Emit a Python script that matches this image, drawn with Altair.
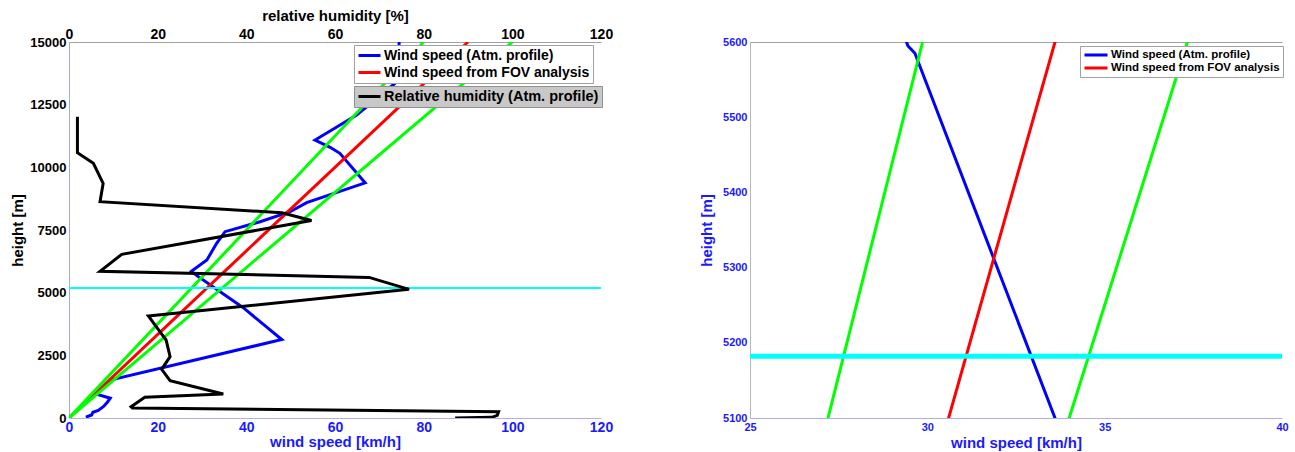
import altair as alt
import pandas as pd

FONT = "Liberation Sans"
BLUE = "#0000ff"
RED = "#ff0000"
GREEN = "#00ff00"
CYAN = "#00ffff"
LABEL_BLUE = "#1a1aff"

# ---- data ----
# Wind speed from the atmospheric profile (height [m], speed [km/h])
wind_height = [15000, 13350, 12090, 11090, 10800, 10560, 9380, 8590, 8230, 7830,
               7433, 6968, 6303, 5850, 5595, 5585, 4400, 3130, 1543, 960, 790,
               640, 460, 300, 230, 120, 30]
wind_speed = [74.5, 73.5, 64.9, 55.5, 58.9, 61.1, 66.8, 53.6, 49.9, 43.1,
              35.2, 33.3, 31.1, 27.6, 29.45, 29.65, 39.3, 48.0, 10.0, 6.0, 9.3,
              8.7, 7.8, 6.6, 5.4, 5.1, 3.8]

# Wind speed from FOV analysis (straight line through the origin)
fov_height = [0, 15000]
fov_speed = [0, 90]

# Uncertainty bounds (green)
lower_height = [0, 15000]
lower_speed = [0, 80]
upper_height = [0, 15000]
upper_speed = [0, 100]

# Relative humidity from the atmospheric profile (height [m], RH [%])
hum_height = [12020, 10580, 10160, 9360, 8630, 8190, 7880, 6530, 5850, 5610,
              5133, 4069, 3443, 3111, 2446, 1942, 1489, 957, 825, 451, 400,
              250, 108, 27, 0]
hum_value = [1.9, 1.9, 5.5, 7.7, 7.0, 48.0, 54.7, 11.9, 7.0, 67.7,
             76.7, 17.9, 20.5, 21.9, 22.8, 20.9, 22.8, 34.8, 17.1, 14.0, 14.3,
             96.9, 96.6, 95.4, 87.1]

# Height of the cyan marker line
marker_height = [5182]

SERIES = ["Wind speed (Atm. profile)", "Wind speed from FOV analysis"]
HUM_SERIES = ["Relative humidity (Atm. profile)"]

left_x_ticks = [0, 20, 40, 60, 80, 100, 120]
left_y_ticks = [0, 2500, 5000, 7500, 10000, 12500, 15000]
right_x_ticks = [25, 30, 35, 40]
right_y_ticks = [5100, 5200, 5300, 5400, 5500, 5600]

# ---- tables ----
wind_df = pd.DataFrame({"h": wind_height, "v": wind_speed, "series": SERIES[0],
                        "i": range(len(wind_height))})
fov_df = pd.DataFrame({"h": fov_height, "v": fov_speed, "series": SERIES[1],
                       "i": range(len(fov_height))})
lines_df = pd.concat([wind_df, fov_df], ignore_index=True)
bounds_df = pd.concat([
    pd.DataFrame({"h": lower_height, "v": lower_speed, "bound": "lower", "i": range(2)}),
    pd.DataFrame({"h": upper_height, "v": upper_speed, "bound": "upper", "i": range(2)}),
], ignore_index=True)
hum_df = pd.DataFrame({"h": hum_height, "rh": hum_value, "series": HUM_SERIES[0],
                       "i": range(len(hum_height))})
marker_df = pd.DataFrame({"h": marker_height})

W, H = 532, 376

# ---------------- left panel ----------------
y_left_axis = alt.Axis(values=left_y_ticks, format="d", title="height [m]",
                       labelFont=FONT, labelFontSize=13, labelFontWeight="bold",
                       labelColor="#000000", titleFont=FONT, titleFontSize=15,
                       titleFontWeight="bold", titleColor="#000000",
                       domainColor="#a8a8c8", ticks=False, grid=False,
                       labelPadding=3, titlePadding=4, labelFlush=False)
y_left = alt.Y("h:Q", scale=alt.Scale(domain=[0, 15000], nice=False, zero=False),
               axis=y_left_axis)
x_scale_left = alt.Scale(domain=[0, 120], nice=False)
x_bottom_axis = alt.Axis(values=left_x_ticks, format="d", title="wind speed [km/h]",
                         orient="bottom", labelFont=FONT, labelFontSize=14,
                         labelFontWeight="bold", labelColor=LABEL_BLUE,
                         titleFont=FONT, titleFontSize=15, titleFontWeight="bold",
                         titleColor=LABEL_BLUE, domainColor="#b0b0e8", ticks=False,
                         grid=False, labelPadding=2, titlePadding=0, labelFlush=False)

wind_left = alt.Chart(lines_df).mark_line(strokeWidth=3, clip=True).encode(
    x=alt.X("v:Q", scale=x_scale_left, axis=x_bottom_axis),
    y=y_left,
    order="i:Q",
    color=alt.Color("series:N", scale=alt.Scale(domain=SERIES, range=[BLUE, RED]),
                    legend=alt.Legend(title=None, orient="none", legendX=285, legendY=3,
                                      fillColor="#ffffff", strokeColor="#a0a0a0",
                                      padding=3, rowPadding=2, columnPadding=0,
                                      columns=1, labelFont=FONT,
                                      labelFontSize=14, labelFontWeight="bold",
                                      labelColor="#000000", labelLimit=400,
                                      symbolType="stroke", symbolSize=484,
                                      symbolStrokeWidth=3, clipHeight=15,
                                      labelOffset=2)),
)
green_left = alt.Chart(bounds_df).mark_line(strokeWidth=3, clip=True, color=GREEN).encode(
    x=alt.X("v:Q", scale=x_scale_left, axis=None),
    y=y_left,
    detail="bound:N",
    order="i:Q",
)
cyan_left = alt.Chart(marker_df).mark_rule(strokeWidth=2, color=CYAN).encode(y=y_left)
hum_left = alt.Chart(hum_df).mark_line(strokeWidth=3, clip=True).encode(
    x=alt.X("rh:Q", scale=x_scale_left,
            axis=alt.Axis(values=left_x_ticks, format="d", title="relative humidity [%]",
                          orient="top", labelFont=FONT, labelFontSize=14,
                          labelFontWeight="bold", labelColor="#000000",
                          titleFont=FONT, titleFontSize=15, titleFontWeight="bold",
                          titleColor="#000000", domainColor="#a0a0a0", ticks=False,
                          grid=False, labelPadding=1, titlePadding=4, labelFlush=False)),
    y=y_left,
    order="i:Q",
    stroke=alt.Stroke("series:N", scale=alt.Scale(domain=HUM_SERIES, range=["#000000"]),
                      legend=alt.Legend(title=None, orient="none", legendX=285, legendY=44,
                                        fillColor="#c8c8c8", strokeColor="#909090",
                                        padding=3, labelFont=FONT, labelFontSize=14.5,
                                        labelFontWeight="bold", labelColor="#000000",
                                        labelLimit=400, symbolType="stroke",
                                        symbolSize=484, symbolStrokeWidth=3,
                                        clipHeight=15, labelOffset=2)),
)
left = alt.layer(wind_left, green_left, cyan_left, hum_left).resolve_axis(
    x="independent").properties(width=W, height=H)

# ---------------- right panel ----------------
y_right_axis = alt.Axis(values=right_y_ticks, format="d", title="height [m]",
                        labelFont=FONT, labelFontSize=11, labelFontWeight="bold",
                        labelColor=LABEL_BLUE, titleFont=FONT, titleFontSize=15,
                        titleFontWeight="bold", titleColor=LABEL_BLUE,
                        domainColor="#b8b8b8", ticks=False, grid=False,
                        labelPadding=3, titlePadding=8, labelFlush=False)
y_right = alt.Y("h:Q", scale=alt.Scale(domain=[5100, 5600], nice=False, zero=False),
                axis=y_right_axis)
x_scale_right = alt.Scale(domain=[25, 40], nice=False, zero=False)
x_right_axis = alt.Axis(values=right_x_ticks, format="d", title="wind speed [km/h]",
                        orient="bottom", labelFont=FONT, labelFontSize=11,
                        labelFontWeight="bold", labelColor=LABEL_BLUE,
                        titleFont=FONT, titleFontSize=15, titleFontWeight="bold",
                        titleColor=LABEL_BLUE, domainColor="#b0b0e8", ticks=False,
                        grid=False, labelPadding=3, titlePadding=3, labelFlush=False)

wind_right = alt.Chart(lines_df).mark_line(strokeWidth=3, clip=True).encode(
    x=alt.X("v:Q", scale=x_scale_right, axis=x_right_axis),
    y=y_right,
    order="i:Q",
    color=alt.Color("series:N", scale=alt.Scale(domain=SERIES, range=[BLUE, RED]),
                    legend=alt.Legend(title=None, orient="none", legendX=330, legendY=4,
                                      fillColor="#ffffff", strokeColor="#a0a0a0",
                                      padding=3, rowPadding=1, columnPadding=0,
                                      columns=1, labelFont=FONT,
                                      labelFontSize=11.5, labelFontWeight="bold",
                                      labelColor="#000000", labelLimit=400,
                                      symbolType="stroke", symbolSize=529,
                                      symbolStrokeWidth=3, clipHeight=12,
                                      labelOffset=2)),
)
green_right = alt.Chart(bounds_df).mark_line(strokeWidth=3, clip=True, color=GREEN).encode(
    x=alt.X("v:Q", scale=x_scale_right,
            axis=alt.Axis(orient="top", labels=False, ticks=False, title=None,
                          domainColor="#a0a0a0", grid=False)),
    y=y_right,
    detail="bound:N",
    order="i:Q",
)
cyan_right = alt.Chart(marker_df).mark_rule(strokeWidth=5, color=CYAN).encode(y=y_right)

right = alt.layer(wind_right, green_right, cyan_right).resolve_axis(
    x="independent").properties(width=W, height=H)

chart = alt.hconcat(left, right, spacing=149, bounds="flush").resolve_scale(
    x="independent", y="independent", color="independent"
).resolve_legend(color="independent").properties(
    padding={"left": 10, "top": 7, "right": 2, "bottom": 0},
    background="#ffffff",
).configure_view(stroke="transparent")

chart.save("out.html", embed_options={"renderer": "svg", "actions": False})
